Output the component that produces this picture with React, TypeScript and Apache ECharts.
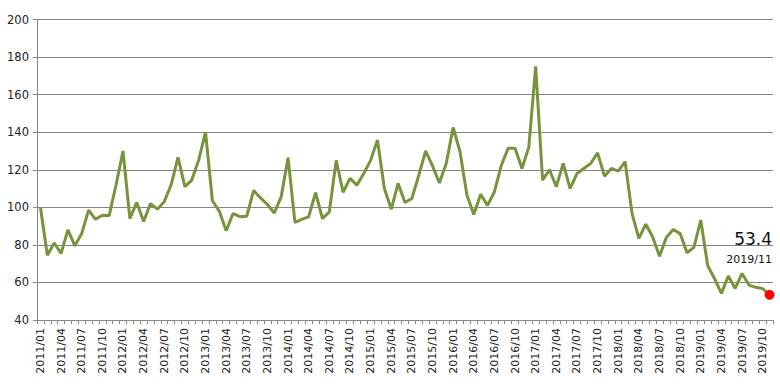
import React, { useEffect, useRef } from "react";
import * as echarts from "echarts";

const START_YEAR = 2011;
const MONTH_COUNT = 107; // 2011/01 .. 2019/11

const categories: string[] = [];
for (let i = 0; i < MONTH_COUNT; i++) {
  const y = START_YEAR + Math.floor(i / 12);
  const m = (i % 12) + 1;
  categories.push(`${y}/${m < 10 ? "0" + m : m}`);
}

const values2011 = [100, 74.5, 81, 75.5, 88, 79.5, 86, 98.5, 93.6, 95.8, 95.7, 112];
const values2012 = [130, 94, 102.6, 92.5, 102, 99, 103, 112, 126.6, 111, 114.5, 125];
const values2013 = [140, 103.5, 98, 87.5, 96.7, 95, 95.3, 109, 105, 101.5, 97, 105.6];
const values2014 = [126.4, 92, 93.6, 95, 107.8, 94, 97.6, 125, 108, 115.4, 111.8, 118];
const values2015 = [125, 135.8, 110, 99, 112.7, 102.6, 104.7, 117, 130, 122, 113, 123.4];
const values2016 = [142.5, 129.6, 106.5, 96.2, 107, 101, 108.3, 122.3, 131.5, 131.5, 120.7, 132];
const values2017 = [175, 114.5, 120, 111, 123.4, 110, 118, 120.7, 123.4, 129, 116.6, 120.7];
const values2018 = [119.3, 124.3, 96.8, 83.5, 91, 84.3, 74, 84, 88.2, 86, 75.8, 78.7];
const values2019 = [93.2, 69, 62, 54.2, 63.4, 56.8, 64.8, 58.6, 57.4, 56.7, 53.4];

const values: number[] = [
  ...values2011, ...values2012, ...values2013, ...values2014, ...values2015,
  ...values2016, ...values2017, ...values2018, ...values2019,
];

const yTicks = { min: 40, max: 200, interval: 20 };

const LINE_COLOR = "#77933C";
const GRID_COLOR = "#868686";
const FONT = "DejaVu Sans, Verdana, sans-serif";

export default function App() {
  const ref = useRef<HTMLDivElement>(null);
  useEffect(() => {
    if (!ref.current) return;
    const chart = echarts.init(ref.current, null, { renderer: "svg" });
    const lastIdx = values.length - 1;
    const seriesData = values.map((v, i) =>
      i === lastIdx
        ? {
            value: v,
            symbol: "circle",
            symbolSize: 9,
            itemStyle: { color: "#FF0000", borderColor: "#FF0000" },
            label: {
              show: true,
              position: [7.5, -22.5],
              align: "right",
              verticalAlign: "bottom",
              formatter: () => `{a|${v}}\n{b|${categories[i]}}`,
              rich: {
                a: { fontSize: 17, lineHeight: 24, color: "#111", fontFamily: FONT, align: "right" },
                b: { fontSize: 11, lineHeight: 16, color: "#111", fontFamily: FONT, align: "right" },
              },
            },
          }
        : { value: v, symbol: "none", label: { show: false } }
    );
    chart.setOption({
      animation: false,
      backgroundColor: "#ffffff",
      grid: { left: 37, right: 7, top: 19.5, bottom: 71, containLabel: false },
      xAxis: {
        type: "category",
        data: categories,
        boundaryGap: true,
        axisLine: { show: true, lineStyle: { color: GRID_COLOR, width: 1 } },
        axisTick: { show: true, interval: 0, length: 4, lineStyle: { color: GRID_COLOR } },
        axisLabel: {
          interval: 2,
          rotate: 90,
          margin: 8,
          fontSize: 11,
          fontFamily: FONT,
          color: "#222",
        },
        splitLine: { show: false },
      },
      yAxis: {
        type: "value",
        min: yTicks.min,
        max: yTicks.max,
        interval: yTicks.interval,
        axisLine: { show: true, lineStyle: { color: GRID_COLOR, width: 1 } },
        axisTick: { show: true, length: 4, lineStyle: { color: GRID_COLOR } },
        axisLabel: { fontSize: 11.5, fontFamily: FONT, color: "#222", margin: 8 },
        splitLine: { show: true, lineStyle: { color: GRID_COLOR, width: 1 } },
      },
      series: [
        {
          type: "line",
          data: seriesData,
          showSymbol: true,
          showAllSymbol: true,
          smooth: false,
          lineStyle: { color: LINE_COLOR, width: 3 },
          itemStyle: { color: LINE_COLOR },
          z: 3,
        },
      ],
    });
    return () => chart.dispose();
  }, []);
  return (
    <div
      ref={ref}
      style={{ position: "fixed", left: 0, top: 0, width: 780, height: 391, background: "#fff" }}
    />
  );
}
